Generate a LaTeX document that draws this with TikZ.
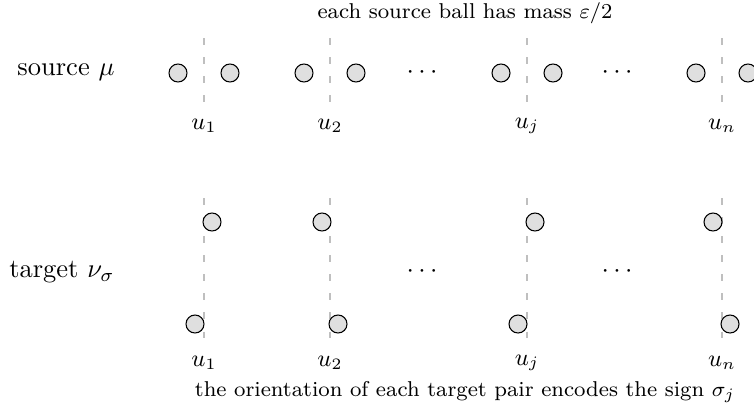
\documentclass[tikz,border=0pt]{standalone}
\usetikzlibrary{calc}
\begin{document}
\begin{tikzpicture}[x=0.3774pt,y=-0.3774pt,
  ball/.style={circle,draw=black,fill=gray!25,line width=0.4pt,minimum size=18*0.3774pt,inner sep=0pt},
  guide/.style={draw=gray!50,line width=0.4pt,dash pattern=on 2.5pt off 4.7pt},
  ulabel/.style={inner sep=0pt,font=\small},
  rowlabel/.style={inner sep=0pt,font=\normalsize},
  note/.style={inner sep=0pt,font=\fontsize{8.1}{10}\selectfont}]
\useasboundingbox (0,0) rectangle (754,411);
% guide positions
\foreach \n/\x in {1/204,2/330,j/527,n/722}{
  \coordinate (st\n) at (\x,38);
  \coordinate (sb\n) at (\x,105);
  \coordinate (tt\n) at (\x,198);
  \coordinate (tb\n) at (\x,347);
  \draw[guide] (st\n) -- (sb\n);
  \draw[guide] (tt\n) -- (tb\n);
  \node[ulabel] (su\n) at (\x,126) {$u_{\n}$};
  \node[ulabel] (tu\n) at (\x,363) {$u_{\n}$};
  \node[ball] (sl\n) at (\x-26,73) {};
  \node[ball] (sr\n) at (\x+26,73) {};
}
% target balls
\node[ball] (tup1) at (212,222) {};
\node[ball] (tlo1) at (195,324) {};
\node[ball] (tup2) at (322,222) {};
\node[ball] (tlo2) at (338,324) {};
\node[ball] (tupj) at (535,222) {};
\node[ball] (tloj) at (518,324) {};
\node[ball] (tupn) at (713,222) {};
\node[ball] (tlon) at (730,324) {};
% dots
\node[inner sep=0pt] (sd1) at (422,73) {$\cdots$};
\node[inner sep=0pt] (sd2) at (617,73) {$\cdots$};
\node[inner sep=0pt] (td1) at (422,272) {$\cdots$};
\node[inner sep=0pt] (td2) at (617,272) {$\cdots$};
% row labels
\node[rowlabel] (src) at (66,72) {source $\mu$};
\node[rowlabel] (tgt) at (62,272) {target $\nu_\sigma$};
% notes
\node[note] (top) at (465,13) {each source ball has mass $\varepsilon/2$};
\node[note] (bot) at (465,392) {the orientation of each target pair encodes the sign $\sigma_j$};
\end{tikzpicture}
\end{document}
